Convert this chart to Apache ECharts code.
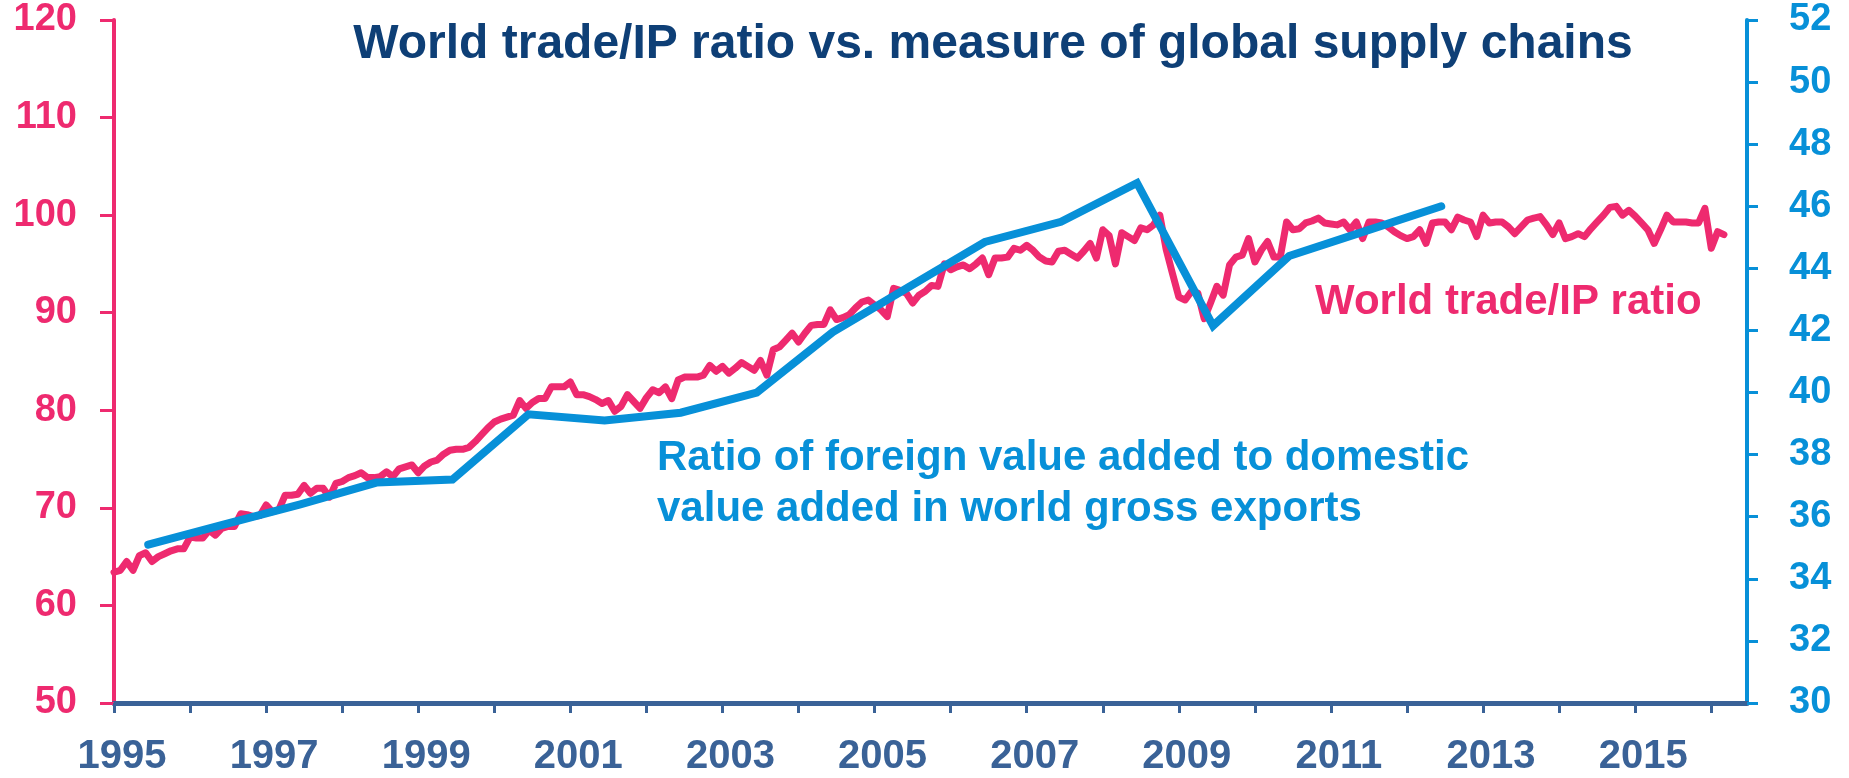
<!DOCTYPE html>
<html>
<head>
<meta charset="utf-8">
<script src="https://cdn.jsdelivr.net/npm/echarts@6/dist/echarts.min.js"></script>
<style>
html,body{margin:0;padding:0;background:#fff;}
#chart{width:1849px;height:778px;}
</style>
</head>
<body>
<div id="chart"></div>
<script>
// ---- Data ----
// World trade/IP ratio, monthly from Jan 1995 to Mar 2016 (left axis)
const tradeStartYear = 1995;
const tradeIpRatio = [
  // 1995
  63.4, 63.6, 64.5, 63.6, 65.1, 65.4, 64.5, 65.0, 65.3, 65.6, 65.8, 65.8,
  // 1996
  67.0, 66.9, 66.9, 67.7, 67.2, 67.9, 68.1, 68.1, 69.4, 69.3, 69.1, 69.2,
  // 1997
  70.3, 69.6, 69.8, 71.3, 71.3, 71.4, 72.3, 71.5, 72.0, 72.0, 71.1, 72.5,
  // 1998
  72.7, 73.1, 73.3, 73.6, 73.1, 73.1, 73.2, 73.7, 73.2, 74.0, 74.2, 74.4,
  // 1999
  73.6, 74.3, 74.7, 74.9, 75.5, 75.9, 76.0, 76.0, 76.2, 76.8, 77.5, 78.2,
  // 2000
  78.8, 79.1, 79.3, 79.5, 81.0, 80.2, 80.8, 81.2, 81.2, 82.4, 82.4, 82.4,
  // 2001
  82.9, 81.6, 81.6, 81.4, 81.1, 80.7, 81.0, 79.9, 80.4, 81.6, 80.9, 80.2,
  // 2002
  81.3, 82.1, 81.8, 82.4, 81.2, 83.1, 83.4, 83.4, 83.4, 83.6, 84.6, 84.0,
  // 2003
  84.5, 83.8, 84.3, 84.9, 84.5, 84.1, 85.1, 83.6, 86.2, 86.5, 87.2, 87.9,
  // 2004
  87.0, 87.9, 88.7, 88.8, 88.8, 90.3, 89.3, 89.5, 89.8, 90.5, 91.1, 91.3,
  // 2005
  90.8, 90.3, 89.6, 92.5, 92.3, 92.0, 91.0, 91.8, 92.2, 92.8, 92.7, 95.0,
  // 2006
  94.4, 94.7, 94.9, 94.5, 95.0, 95.6, 93.9, 95.6, 95.6, 95.7, 96.6, 96.4,
  // 2007
  96.9, 96.4, 95.7, 95.3, 95.2, 96.3, 96.4, 96.0, 95.6, 96.3, 97.1, 95.6,
  // 2008
  98.5, 97.9, 95.0, 98.2, 97.8, 97.4, 98.7, 98.5, 99.0, 100.0, 96.5, 94.0,
  // 2009
  91.6, 91.3, 92.2, 92.0, 89.4, 91.0, 92.7, 91.8, 94.9, 95.7, 95.9, 97.6,
  // 2010
  95.2, 96.4, 97.3, 95.7, 95.7, 99.3, 98.5, 98.6, 99.2, 99.4, 99.7, 99.2,
  // 2011
  99.1, 99.0, 99.3, 98.5, 99.3, 97.6, 99.3, 99.3, 99.2, 98.8, 98.3, 97.9,
  // 2012
  97.6, 97.8, 98.5, 97.1, 99.2, 99.3, 99.3, 98.5, 99.8, 99.5, 99.3, 97.8,
  // 2013
  100.0, 99.2, 99.3, 99.3, 98.8, 98.1, 98.8, 99.5, 99.7, 99.85, 99.0, 98.0,
  // 2014
  99.2, 97.6, 97.8, 98.1, 97.8, 98.6, 99.3, 100.0, 100.8, 100.9, 100.0, 100.5,
  // 2015
  99.9, 99.2, 98.5, 97.1, 98.5, 100.0, 99.3, 99.3, 99.3, 99.2, 99.2, 100.7,
  // 2016
  96.6, 98.3, 98.0
];

// Foreign / domestic value added ratio, annual, plotted mid-year (right axis)
const fvaYears = [1995, 1996, 1997, 1998, 1999, 2000, 2001, 2002, 2003, 2004, 2005, 2006, 2007, 2008, 2009, 2010, 2011, 2012];
const fvaRatio = [35.1, 35.75, 36.4, 37.1, 37.2, 39.3, 39.1, 39.35, 40.0, 41.95, 43.4, 44.85, 45.5, 46.75, 42.15, 44.4, 45.2, 46.0];

const tickYears = [1995,1996,1997,1998,1999,2000,2001,2002,2003,2004,2005,2006,2007,2008,2009,2010,2011,2012,2013,2014,2015,2016];
const labelYears = [1995,1997,1999,2001,2003,2005,2007,2009,2011,2013,2015];

const titleText = 'World trade/IP ratio vs. measure of global supply chains';
const tradeLabel = 'World trade/IP ratio';
const fvaLabel = 'Ratio of foreign value added to domestic\nvalue added in world gross exports';

// ---- Build ----
const PINK = '#ee2a6f';
const BLUE = '#0790d8';
const NAVY = '#0e3f76';
const XCOL = '#3a6297';
const FONT = '"Liberation Sans", Arial, Helvetica, sans-serif';

const tradeData = tradeIpRatio.map((v, i) => [tradeStartYear + i / 12, v]);
const fvaData = fvaYears.map((y, i) => [y + 0.45, fvaRatio[i]]);

const chart = echarts.init(document.getElementById('chart'), null, {renderer: 'canvas'});
chart.setOption({
  animation: false,
  backgroundColor: '#ffffff',
  grid: {left: 114, right: 102, top: 20, bottom: 75, containLabel: false},
  xAxis: {
    type: 'value', min: 1995, max: 2016.47,
    splitLine: {show: false},
    axisLine: {show: true, lineStyle: {color: XCOL, width: 5}},
    axisTick: {show: true, customValues: tickYears, length: 10, lineStyle: {color: XCOL, width: 3}},
    axisLabel: {
      customValues: labelYears,
      formatter: v => String(Math.round(v)),
      color: XCOL, fontSize: 40, fontWeight: 'bold', fontFamily: FONT,
      margin: 34, padding: [0, 0, 0, 16]
    }
  },
  yAxis: [{
    type: 'value', position: 'left', min: 50, max: 120, interval: 10,
    splitLine: {show: false},
    axisLine: {show: true, lineStyle: {color: PINK, width: 4}},
    axisTick: {show: true, length: 14, lineStyle: {color: PINK, width: 3}},
    axisLabel: {color: PINK, fontSize: 38, fontWeight: 'bold', fontFamily: FONT, margin: 37}
  }, {
    type: 'value', position: 'right', min: 30, max: 52, interval: 2,
    splitLine: {show: false},
    axisLine: {show: true, lineStyle: {color: BLUE, width: 4}},
    axisTick: {show: true, length: 11, lineStyle: {color: BLUE, width: 3}},
    axisLabel: {color: BLUE, fontSize: 38, fontWeight: 'bold', fontFamily: FONT, margin: 42}
  }],
  series: [{
    name: tradeLabel, type: 'line', yAxisIndex: 0, data: tradeData,
    showSymbol: false, symbol: 'none',
    lineStyle: {color: PINK, width: 7, cap: 'round', join: 'round'},
    z: 2
  }, {
    name: 'FVA/DVA', type: 'line', yAxisIndex: 1, data: fvaData,
    showSymbol: false, symbol: 'none',
    lineStyle: {color: BLUE, width: 8, cap: 'round', join: 'miter'},
    z: 3
  }],
  graphic: [{
    type: 'text', x: 993, y: 45,
    style: {text: titleText, fill: NAVY, font: 'bold 48px ' + FONT, align: 'center', verticalAlign: 'middle'}
  }, {
    type: 'text', x: 1315, y: 302,
    style: {text: tradeLabel, fill: PINK, font: 'bold 42px ' + FONT, align: 'left', verticalAlign: 'middle'}
  }, {
    type: 'text', x: 657, y: 484,
    style: {text: fvaLabel, fill: BLUE, font: 'bold 42px ' + FONT, lineHeight: 51, align: 'left', verticalAlign: 'middle'}
  }]
});
</script>
</body>
</html>
